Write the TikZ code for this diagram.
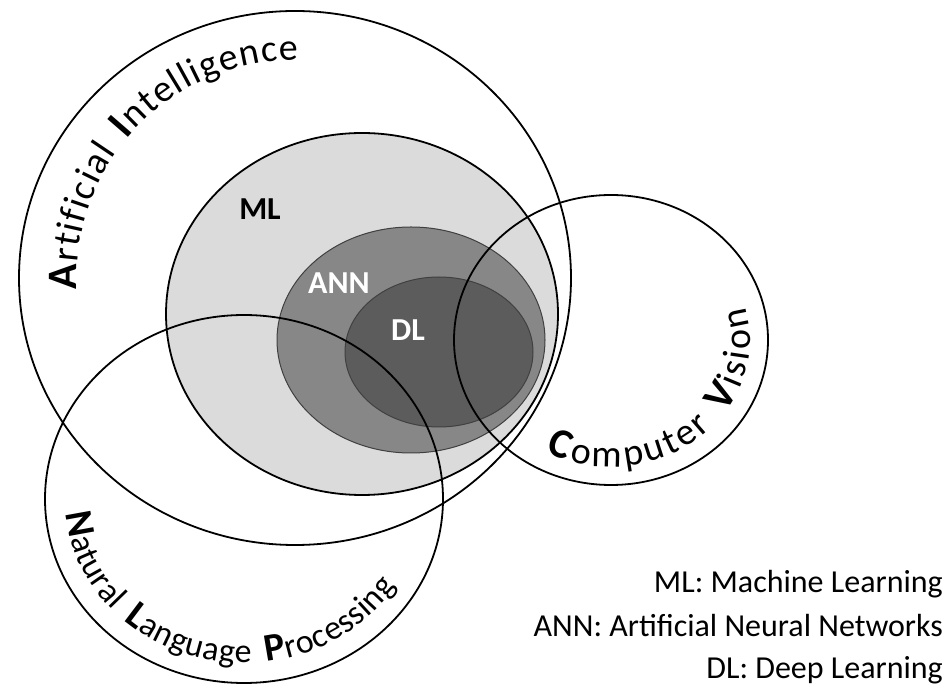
\documentclass[tikz,border=0pt]{standalone}
\usepackage{fontspec}
\setmainfont{Carlito}
\usetikzlibrary{decorations.text}

\definecolor{mlgray}{gray}{0.86}
\definecolor{anngray}{gray}{0.53}
\definecolor{dlgray}{gray}{0.36}
\newcommand{\capfont}{\bfseries\fontsize{42}{42}\selectfont}
\newcommand{\lowfont}{\mdseries\fontsize{38}{38}\selectfont}
\newcommand{\nlpcap}{\bfseries\fontsize{39}{39}\selectfont}
\newcommand{\nlplow}{\mdseries\fontsize{34}{34}\selectfont}
\newcommand{\wordgap}{\kern14pt}

\begin{document}
\begin{tikzpicture}[x=1pt, y=1pt,
    venn/.style={draw=black, line width=1.8pt},
    inner/.style={draw=black!75, line width=1pt},
    tag/.style={font=\bfseries\fontsize{32}{32}\selectfont},
    key/.style={anchor=base east, inner sep=0pt, font=\fontsize{32}{32}\selectfont},
    arcname/.style={decorate, decoration={text along path, text={#1},
        text align=fit to path}}]
    \useasboundingbox (0,0) rectangle (950,688);

    % nested sets
    \fill[mlgray] (362,374) ellipse [x radius=196, y radius=181];
    \filldraw[inner, fill=anngray] (411,348) ellipse [x radius=134, y radius=113];
    \filldraw[inner, fill=dlgray] (439,336) ellipse [x radius=94, y radius=75];

    % outlines
    \draw[venn] (295,410) ellipse [x radius=276, y radius=267];
    \draw[venn] (362,374) ellipse [x radius=196, y radius=181];
    \draw[venn] (611,348) ellipse [x radius=157, y radius=145];
    \draw[venn] (244,189) ellipse [x radius=199, y radius=184];

    \node[tag] (ml) at (260,479) {ML};
    \node[tag, text=white] (ann) at (339,405) {ANN};
    \node[tag, text=white] (dl) at (408,358) {DL};

    % curved names
    \path[arcname={|\capfont|A|\lowfont|rtificial{\wordgap}|\capfont|I|\lowfont|ntelligence}]
        (295,410) ++(183:218) arc [start angle=183, end angle=89, radius=218];
    \path[arcname={|\capfont|C|\lowfont|omputer{\wordgap}|\capfont|V|\lowfont|ision}]
        (611,348) ++(242:139 and 127) arc [start angle=242, end angle=375, x radius=139, y radius=127];
    \path[arcname={|\nlpcap|N|\nlplow|atural{\wordgap}|\nlpcap|L|\nlplow|anguage{\wordgap}|\nlpcap|P|\nlplow|rocessing}]
        (244,189) ++(185:179 and 164) arc [start angle=185, end angle=328, x radius=179, y radius=164];

    \node[key] (keyml) at (943,95) {ML: Machine Learning};
    \node[key] (keyann) at (943,52) {ANN: Artificial Neural Networks};
    \node[key] (keydl) at (943,10) {DL: Deep Learning};
\end{tikzpicture}
\end{document}
